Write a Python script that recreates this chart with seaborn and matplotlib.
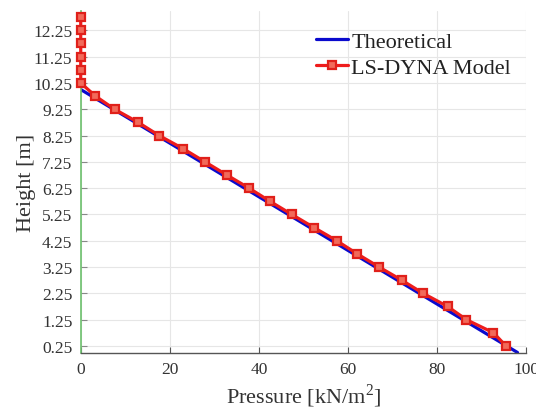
import matplotlib
matplotlib.use("Agg")
import matplotlib.pyplot as plt
import seaborn as sns
import numpy as np
import pandas as pd

# Data
theory_height = [0.0, 10.0]
theory_pressure = [98.1, 0.0]

dyna_height = [0.25, 0.75, 1.25, 1.75, 2.25, 2.75, 3.25, 3.75, 4.25, 4.75,
               5.25, 5.75, 6.25, 6.75, 7.25, 7.75, 8.25, 8.75, 9.25, 9.75,
               10.25, 10.75, 11.25, 11.75, 12.25, 12.75]
dyna_pressure = [95.5, 92.7, 86.6, 82.4, 76.9, 72.1, 67.0, 62.1, 57.5, 52.4,
                 47.4, 42.5, 37.8, 32.8, 27.9, 23.0, 17.6, 12.9, 7.6, 3.3,
                 0.0, 0.0, 0.0, 0.0, 0.0, 0.0]

ytick_vals = [0.25, 1.25, 2.25, 3.25, 4.25, 5.25, 6.25, 7.25, 8.25, 9.25, 10.25, 11.25, 12.25]
xtick_vals = [0, 20, 40, 60, 80, 100]

sns.set_theme(style="whitegrid")
plt.rcParams['font.family'] = ['Liberation Serif', 'DejaVu Serif']
plt.rcParams['mathtext.fontset'] = 'custom'
plt.rcParams['mathtext.rm'] = 'Liberation Serif'

fig = plt.figure(figsize=(5.36, 4.10), dpi=100)
ax = fig.add_axes([0.1506, 0.1378, 0.8307, 0.8339])

df_t = pd.DataFrame({"p": theory_pressure, "h": theory_height})
df_d = pd.DataFrame({"p": dyna_pressure, "h": dyna_height})

sns.lineplot(data=df_t, x="p", y="h", sort=False, estimator=None, ax=ax,
             color="#0a0acd", linewidth=2.3, label="Theoretical")
sns.lineplot(data=df_d, x="p", y="h", sort=False, estimator=None, ax=ax,
             color="#ee1c1c", linewidth=2.3, marker="s", markersize=5.5,
             markerfacecolor="#f26a5a", markeredgecolor="#e0201a", markeredgewidth=1.6,
             label="LS-DYNA Model", clip_on=False, zorder=5)

ax.set_xlim(0, 100)
ax.set_ylim(0, 13)
ax.set_xticks(xtick_vals)
ax.set_yticks(ytick_vals)
ax.set_yticklabels([f"{v:.2f}" for v in ytick_vals])
ax.set_facecolor("white")
ax.grid(True, color="#e6e6e6", linewidth=0.8)

for s in ["top", "right"]:
    ax.spines[s].set_visible(False)
ax.spines["left"].set_color("#6cc06c")
ax.spines["left"].set_linewidth(1.2)
ax.spines["bottom"].set_color("#555555")
ax.spines["bottom"].set_linewidth(1.0)

ax.tick_params(axis="both", direction="in", length=4, width=0.8, labelsize=12.5,
               colors="#333333", labelcolor="#333333", pad=6)
ax.tick_params(axis="y", color="#888888")
ax.tick_params(axis="x", color="#555555")
ax.tick_params(left=True, bottom=True)

ax.set_xlabel(r"Pressure [kN/m$^2$]", fontsize=16, color="#333333", labelpad=3)
ax.set_ylabel("Height [m]", fontsize=16, color="#333333", labelpad=-2)

leg = ax.legend(loc="upper left", bbox_to_anchor=(0.508, 0.965), frameon=False,
                fontsize=16, handlelength=1.45, handletextpad=0.15,
                borderaxespad=0, labelspacing=0.25)
for t in leg.get_texts():
    t.set_color("#222222")

fig.savefig("out.png", dpi=100)
